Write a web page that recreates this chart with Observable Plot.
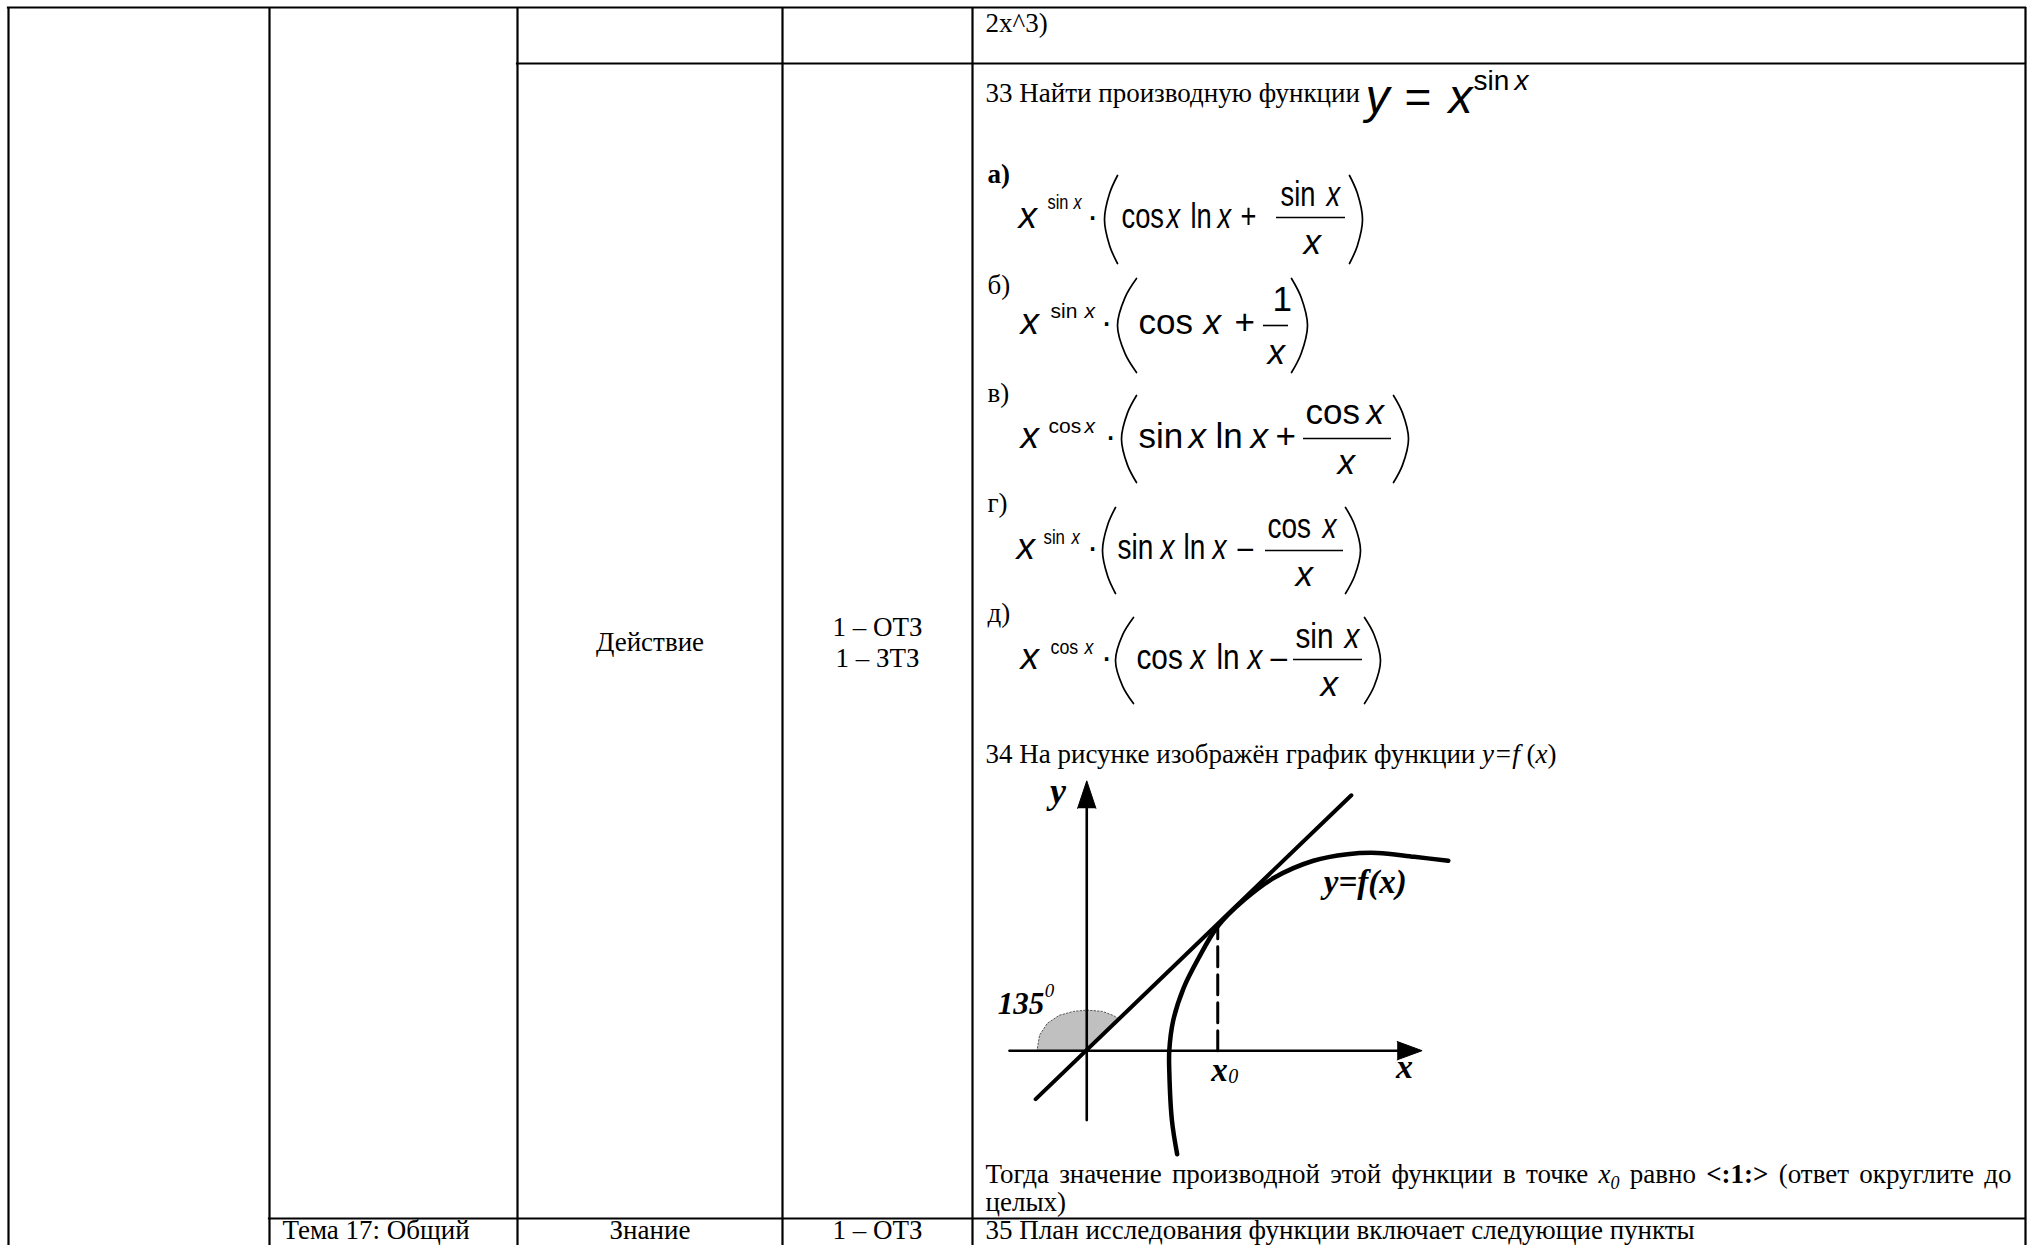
<!DOCTYPE html>
<html><head><meta charset="utf-8">
<script src="https://cdn.jsdelivr.net/npm/d3@7"></script>
<script src="https://cdn.jsdelivr.net/npm/@observablehq/plot@0.6"></script>
<style>
html,body{margin:0;padding:0;background:#fff;}
#page{position:relative;width:2027px;height:1245px;overflow:hidden;background:#fff;}
#page svg{position:absolute;left:0;top:0;}
</style>
</head><body><div id="page"></div>
<script>
// ---------- content ----------
const prevAnswerTail = "2x^3)";
const q33Text = "33 Найти производную функции";
const q33Formula = ["y", "=", "x"];
const q33Exponent = ["sin", "x"];
const optionLabels = ["а)", "б)", "в)", "г)", "д)"];
const optionBase = ["x", "x", "x", "x", "x"];
const optionExp = [["sin","x"],["sin","x"],["cos","x"],["sin","x"],["cos","x"]];
const optionTerms = [["cos","x","ln","x","+"],["cos","x","+"],["sin","x","ln","x","+"],["sin","x","ln","x","–"],["cos","x","ln","x","–"]];
const optionNum = [["sin","x"],["1"],["cos","x"],["cos","x"],["sin","x"]];
const optionDen = ["x", "x", "x", "x", "x"];
const actionCell = "Действие";
const taskCounts = ["1 – ОТЗ", "1 – ЗТЗ"];
const q34Head = [["34 На рисунке изображён график функции ","n"],["y=f ","i"],["(","n"],["x","i"],[")","n"]];
const q34Words = [[["Тогда","n"]],[["значение","n"]],[["производной","n"]],[["этой","n"]],[["функции","n"]],[["в","n"]],[["точке","n"]],[["x","i"],["0","sub"]],[["равно","n"]],[["<:1:>","b"]],[["(ответ","n"]],[["округлите","n"]],[["до","n"]]];
const q34End = "целых)";
const nextRow = ["Тема 17: Общий", "Знание", "1 – ОТЗ", "35 План исследования функции включает следующие пункты"];

// graph (units: x0 = 1)
const curveX = [0.69,0.65,0.63,0.63,0.66,0.74,0.85,1.00,1.20,1.43,1.73,1.99,2.22,2.50,2.76];
const curveY = [-0.79,-0.53,-0.15,0.00,0.23,0.48,0.70,0.95,1.15,1.32,1.45,1.50,1.51,1.48,1.45];
const tangentX = [-0.39, 2.02];
const tangentY = [-0.37, 1.95];
const sectorX = [0,-0.38,-0.36,-0.30,-0.21,-0.10,0.00,0.12,0.20,0.25,0];
const sectorY = [0,0.00,0.12,0.21,0.27,0.30,0.31,0.30,0.27,0.24,0];
const xAxisX = [-0.59, 2.40], yAxisY = [-0.53, 1.90];
const xArrowX = [2.37, 2.56, 2.37], xArrowY = [0.07, 0, -0.07];
const yArrowX = [-0.07, 0, 0.07], yArrowY = [1.85, 2.06, 1.85];
const x0Value = 1, fx0Value = 0.95;
const angleLabel = ["135", "0"];
const curveLabel = "y=f(x)";
const axisLabels = ["x", "y"];
const x0Label = ["x", "0"];

// ---------- layout ----------
const columnEdges = [8, 269, 517, 782, 972, 2025];
const rowRuleY = [7, 63, 1218];
const rowRuleStartCol = [0, 2, 1];
const labelY = [182, 293, 401, 511, 621];
const mainY = [227, 333, 447, 558, 668];
const expY = [208, 317, 432, 543, 653];
const numY = [205, 310, 423, 537, 647];
const barY = [217, 325, 438, 550, 659];
const denY = [253, 363, 473, 585, 695];
const parenTop = [175, 278, 395, 507, 617];
const parenBot = [263, 372, 482, 593, 703];
const baseXPos = [1018, 1020, 1020, 1016, 1020];
const expXPos = [[1047,1073],[1050,1084],[1048,1084],[1043,1071],[1050,1084]];
const dotXPos = [1092, 1106, 1110, 1092, 1106];
const parenL = [[1104,1117],[1117,1136],[1121,1136],[1102,1115],[1115,1133]];
const parenR = [[1349,1362],[1291,1307],[1393,1408],[1345,1360],[1364,1380]];
const termXPos = [[1121,1166,1190,1217,1240],[1138,1203,1234],[1138,1188,1215,1250,1275],[1117,1160,1183,1212,1237],[1136,1190,1216,1247,1270]];
const numXPos = [[1280,1326],[1272],[1305,1366],[1267,1322],[1295,1344]];
const denXPos = [1303, 1267, 1337, 1295, 1320];
const barXPos = [[1276,1345],[1263,1288],[1303,1391],[1265,1343],[1293,1362]];
const condense = [0.78, 1, 1, 0.8, 0.85];

const SERIF = '"Liberation Serif", "Times New Roman", serif';
const SANS = '"Liberation Sans", Arial, sans-serif';
const BODY = 27, MATH = 35, SUP = 21;
const TEXT_LEFT = 985, TEXT_RIGHT = 2011;

// ---------- helpers ----------
const ctx = document.createElement("canvas").getContext("2d");
function measure(text, size, style, weight, family) {
  ctx.font = `${style} ${weight} ${size}px ${family}`;
  return ctx.measureText(text).width;
}
const pieces = [];
function put(text, x, y, o = {}) {
  pieces.push({text, x, y, size: o.size ?? BODY, style: o.style ?? "normal", weight: o.weight ?? "normal",
    family: o.family ?? SERIF, anchor: o.anchor ?? "start", sx: o.sx ?? 1});
}
function styleOf(s) {
  if (s === "i") return {style: "italic"};
  if (s === "b") return {weight: "bold"};
  if (s === "sub") return {style: "italic", size: 18, dy: 6};
  return {};
}
function textMarks(list, meta) {
  return d3.groups(list, d => [d.style, d.weight, d.family, d.anchor, d.sx].join("|")).map(([, arr]) => {
    meta.push(arr[0].sx);
    return Plot.text(arr, {x: "x", y: "y", text: "text", fontSize: d => d.size, fontStyle: arr[0].style,
      fontWeight: arr[0].weight, fontFamily: arr[0].family, textAnchor: arr[0].anchor,
      lineAnchor: "bottom", fill: "black"});
  });
}
function applyCondense(svg, meta) {
  svg.querySelectorAll('g[aria-label="text"]').forEach((g, k) => {
    const sx = meta[k];
    if (!sx || sx === 1) return;
    g.querySelectorAll("text").forEach(t => {
      const tr = t.getAttribute("transform");
      if (tr && tr.includes("translate")) t.setAttribute("transform", tr + ` scale(${sx},1)`);
      else {
        const x = +t.getAttribute("x") || 0, y = +t.getAttribute("y") || 0;
        t.setAttribute("transform", `translate(${x},${y}) scale(${sx},1) translate(${-x},${-y})`);
      }
    });
  });
}

// ---------- table cell text ----------
put(prevAnswerTail, TEXT_LEFT, 31);
put(q33Text, TEXT_LEFT, 101);
put(q33Formula[0], 1365, 112, {size: 48, style: "italic", family: SANS});
put(q33Formula[1], 1404, 112, {size: 46, family: SANS});
put(q33Formula[2], 1448, 112, {size: 48, style: "italic", family: SANS});
put(q33Exponent[0], 1473, 89, {size: 28, family: SANS});
put(q33Exponent[1], 1514, 89, {size: 28, style: "italic", family: SANS});

const parenPts = [];
function paren(xl, xr, top, bot, open, id) {
  const h = bot - top, mid = (top + bot) / 2, w = xr - xl;
  const inner = open ? xr : xl, outer = open ? xl : xr, k = open ? 1 : -1;
  [[inner, top], [outer + k * 0.4 * w, top + 0.2 * h], [outer, mid], [outer + k * 0.4 * w, bot - 0.2 * h], [inner, bot]]
    .forEach(([x, y]) => parenPts.push({x, y, id}));
}
const bars = [];
const mathStyle = t => (t === "x" ? "italic" : "normal");
optionLabels.forEach((lab, i) => {
  const sx = condense[i];
  put(lab, 987, labelY[i], {weight: i === 0 ? "bold" : "normal"});
  put(optionBase[i], baseXPos[i], mainY[i], {size: 37, style: "italic", family: SANS});
  optionExp[i].forEach((t, j) => put(t, expXPos[i][j], expY[i], {size: SUP, style: mathStyle(t), family: SANS, sx}));
  put("·", dotXPos[i], mainY[i], {size: MATH, family: SANS, anchor: "middle"});
  optionTerms[i].forEach((t, j) => put(t, termXPos[i][j], mainY[i], {size: MATH, style: mathStyle(t), family: SANS, sx}));
  optionNum[i].forEach((t, j) => put(t, numXPos[i][j], numY[i], {size: MATH, style: mathStyle(t), family: SANS, sx}));
  put(optionDen[i], denXPos[i], denY[i], {size: MATH, style: "italic", family: SANS});
  bars.push({y: barY[i], x1: barXPos[i][0], x2: barXPos[i][1]});
  paren(parenL[i][0], parenL[i][1], parenTop[i], parenBot[i], true, "L" + i);
  paren(parenR[i][0], parenR[i][1], parenTop[i], parenBot[i], false, "R" + i);
});

const midCol = (columnEdges[2] + columnEdges[3]) / 2;
const cntCol = (columnEdges[3] + columnEdges[4]) / 2;
put(actionCell, midCol, 650, {anchor: "middle"});
put(taskCounts[0], cntCol, 635, {anchor: "middle"});
put(taskCounts[1], cntCol, 666, {anchor: "middle"});

// question 34 heading
{
  let x = TEXT_LEFT;
  q34Head.forEach(([t, s]) => {
    const st = styleOf(s);
    put(t, x, 762, st);
    x += measure(t, BODY, st.style ?? "normal", st.weight ?? "normal", SERIF);
  });
}
// justified line
{
  const widths = q34Words.map(w => w.map(([t, s]) => {
    const st = styleOf(s);
    return measure(t, st.size ?? BODY, st.style ?? "normal", st.weight ?? "normal", SERIF);
  }));
  const total = d3.sum(widths.flat());
  const gap = (TEXT_RIGHT - TEXT_LEFT - total) / (q34Words.length - 1);
  let x = TEXT_LEFT;
  q34Words.forEach((w, i) => {
    w.forEach(([t, s], j) => {
      const st = styleOf(s);
      put(t, x, 1182 + (st.dy ?? 0), st);
      x += widths[i][j];
    });
    x += gap;
  });
}
put(q34End, TEXT_LEFT, 1210);
const lastBase = 1238;
put(nextRow[0], 282, lastBase);
put(nextRow[1], midCol, lastBase, {anchor: "middle"});
put(nextRow[2], cntCol, lastBase, {anchor: "middle"});
put(nextRow[3], TEXT_LEFT, lastBase);

const rows = rowRuleY.map((y, i) => ({y, x1: columnEdges[rowRuleStartCol[i]], x2: columnEdges[columnEdges.length - 1]}));

const mainMeta = [];
const main = Plot.plot({
  width: 2027, height: 1245, margin: 0,
  x: {domain: [0, 2027], range: [0, 2027], axis: null},
  y: {domain: [0, 1245], range: [0, 1245], axis: null},
  style: {background: "white"},
  marks: [
    Plot.ruleX(columnEdges, {y1: rowRuleY[0], y2: 1245, stroke: "black", strokeWidth: 2.2}),
    Plot.ruleY(rows, {y: "y", x1: "x1", x2: "x2", stroke: "black", strokeWidth: 2.2, strokeLinecap: "square"}),
    Plot.ruleY(bars, {y: "y", x1: "x1", x2: "x2", stroke: "black", strokeWidth: 1.6}),
    Plot.line(parenPts, {x: "x", y: "y", z: "id", curve: "catmull-rom", stroke: "black", strokeWidth: 1.7}),
    ...textMarks(pieces, mainMeta)
  ]
});
applyCondense(main, mainMeta);
document.getElementById("page").appendChild(main);

// ---------- inset graph ----------
const U = 131, OX = 1086, OY = 1050;
const gxDom = [-0.75, 2.9], gyDom = [-0.85, 2.2];
const pts = (xs, ys) => xs.map((x, i) => ({x, y: ys[i]}));
const gpieces = [];
const gput = (text, x, y, size, style, weight) => gpieces.push({text, x, y, size, style, weight, family: SERIF, anchor: "start", sx: 1});
gput(axisLabels[1], -0.28, 1.89, 36, "italic", "bold");
gput(axisLabels[0], 2.36, -0.21, 34, "italic", "bold");
gput(angleLabel[0], -0.68, 0.28, 31, "italic", "bold");
gput(angleLabel[1], -0.32, 0.41, 19, "italic", "normal");
gput(curveLabel, 1.81, 1.20, 33, "italic", "bold");
gput(x0Label[0], 0.95, -0.23, 33, "italic", "bold");
gput(x0Label[1], 1.08, -0.25, 20, "italic", "normal");

const graphMeta = [];
const graph = Plot.plot({
  width: (gxDom[1] - gxDom[0]) * U, height: (gyDom[1] - gyDom[0]) * U, margin: 0,
  x: {domain: gxDom, axis: null}, y: {domain: gyDom, axis: null},
  style: {background: "transparent", left: `${OX + gxDom[0] * U}px`, top: `${OY - gyDom[1] * U}px`},
  marks: [
    Plot.line(pts(sectorX, sectorY), {x: "x", y: "y", fill: "#c0c0c0", stroke: "#555", strokeWidth: 1, strokeDasharray: "1.5,2"}),
    Plot.line(pts(xAxisX, [0, 0]), {x: "x", y: "y", stroke: "black", strokeWidth: 2.6}),
    Plot.line(pts([0, 0], yAxisY), {x: "x", y: "y", stroke: "black", strokeWidth: 2.6}),
    Plot.line(pts(xArrowX, xArrowY), {x: "x", y: "y", fill: "black", stroke: "black", strokeWidth: 1}),
    Plot.line(pts(yArrowX, yArrowY), {x: "x", y: "y", fill: "black", stroke: "black", strokeWidth: 1}),
    Plot.line(pts([x0Value, x0Value], [0, fx0Value]), {x: "x", y: "y", stroke: "black", strokeWidth: 3, strokeDasharray: "20,8"}),
    Plot.line(pts(tangentX, tangentY), {x: "x", y: "y", stroke: "black", strokeWidth: 4, strokeLinecap: "round"}),
    Plot.line(pts(curveX, curveY), {x: "x", y: "y", stroke: "black", strokeWidth: 4.5, curve: "catmull-rom"}),
    ...textMarks(gpieces, graphMeta)
  ]
});
document.getElementById("page").appendChild(graph);
</script>
</body></html>
